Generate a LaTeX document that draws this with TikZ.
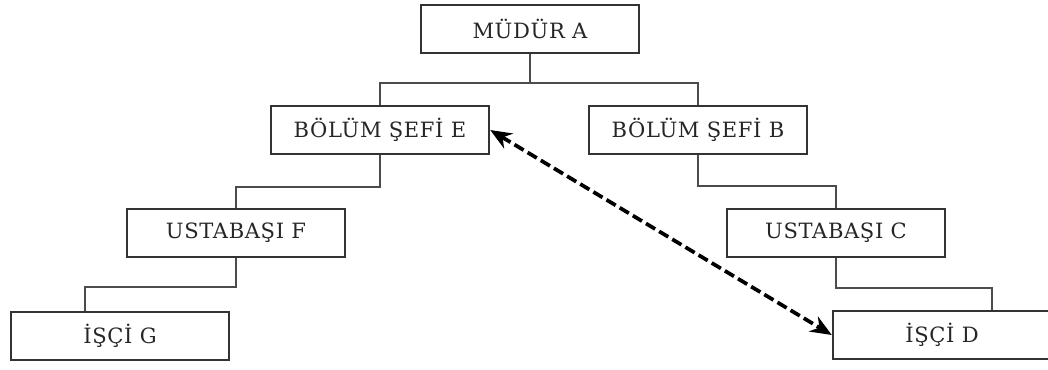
\documentclass[tikz,border=0pt]{standalone}
\usepackage{fontspec}
\setmainfont{DejaVu Serif}[LetterSpace=3]
\usetikzlibrary{arrows.meta,calc}

\begin{document}
\begin{tikzpicture}[x=0.75pt, y=-0.75pt,
    post/.style={draw=black!80, line width=1.3pt, minimum height=36pt,
      minimum width=164pt, inner sep=0pt, font=\fontsize{15.8}{17}\selectfont, text=black!85},
    link/.style={draw=black!70, line width=1.2pt},
    relation/.style={line width=2.8pt, dash pattern=on 8pt off 3.5pt,
      {Stealth[length=16pt,width=13pt]}-{Stealth[length=16pt,width=13pt]}}]
        \useasboundingbox (0,0) rectangle (1048,369);
        \clip (0,0) rectangle (1048,369);

        % boxes
        \node [post] (mudurA) at (530, 29) {MÜDÜR A};
        \node [post] (sefE) at (380, 130) {BÖLÜM ŞEFİ E};
        \node [post] (sefB) at (698, 130) {BÖLÜM ŞEFİ B};
        \node [post] (ustaF) at (236, 233) {USTABAŞI F};
        \node [post] (ustaC) at (836, 233) {USTABAŞI C};
        \node [post] (isciG) at (120, 336) {İŞÇİ G};
        \node [post] (isciD) at (942, 335) {İŞÇİ D};

        % lines
        \draw [link] (mudurA.south) -- ++(0,29) -| (sefE.north);
        \draw [link] (mudurA.south) -- ++(0,29) -| (sefB.north);
        \draw [link] (sefE.south) -- ++(0,32) -| (ustaF.north);
        \draw [link] (ustaF.south) -- ++(0,29) -| ($(isciG.north west)+(75,0)$);
        \draw [link] (sefB.south) -- ++(0,31) -| (ustaC.north);
        \draw [link] (ustaC.south) -- ++(0,30) -| ($(isciD.north west)+(160,0)$);

        \draw [relation] (sefE.east) -- (isciD.west);
      \end{tikzpicture}
\end{document}
